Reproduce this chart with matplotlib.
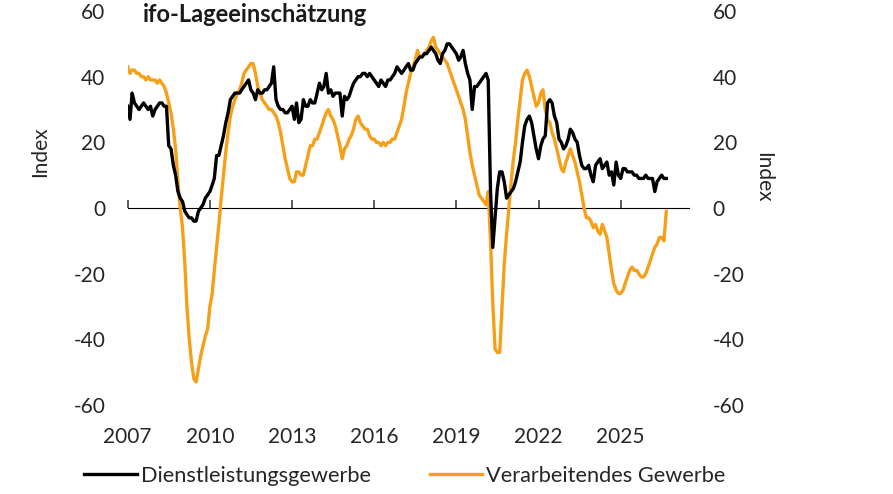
import matplotlib
matplotlib.use("Agg")
import matplotlib.pyplot as plt
import matplotlib.dates as mdates
import pandas as pd
import numpy as np

plt.rcParams['font.family'] = ['Lato', 'DejaVu Sans']
plt.rcParams['axes.unicode_minus'] = False

title = "ifo-Lageeinschätzung"
series_names = ["Dienstleistungsgewerbe", "Verarbeitendes Gewerbe"]
start_month = "2007-01-01"
tick_years = [2007, 2010, 2013, 2016, 2019, 2022, 2025]
y_ticks = [-60, -40, -20, 0, 20, 40, 60]

# Monthly values (Jan 2007 ...)
dienstleistung = [
    31, 27, 35, 32, 31, 30, 31, 32, 31, 30, 31, 28,      # 2007
    30, 31, 32, 32, 31, 31, 19, 18, 13, 10, 5, 3,        # 2008
    2, -1, -2, -3, -3, -4, -4, -1, 0, 1, 3, 4,           # 2009
    5, 7, 9, 16, 16, 19, 22, 26, 29, 33, 34, 35,         # 2010
    35, 35, 36, 37, 38, 39, 36, 35, 33, 36, 35, 35,      # 2011
    36, 36, 37, 38, 43, 33, 31, 30, 30, 29, 29, 30,      # 2012
    31, 27, 32, 26, 27, 33, 31, 31, 33, 32, 32, 35,      # 2013
    38, 36, 37, 41, 35, 36, 34, 35, 35, 35, 28, 34,      # 2014
    33, 34, 36, 38, 39, 40, 40, 41, 41, 40, 41, 40,      # 2015
    39, 38, 37, 39, 38, 37, 39, 39, 40, 41, 43, 42,      # 2016
    41, 42, 43, 44, 42, 42, 44, 45, 46, 46, 47, 47,      # 2017
    48, 49, 48, 47, 45, 44, 47, 48, 50, 50, 49, 48,      # 2018
    47, 45, 46, 48, 44, 41, 39, 30, 37, 37, 38, 39,      # 2019
    40, 41, 39, 5, -12, -3, 6, 11, 11, 8, 3, 4,          # 2020
    5, 6, 8, 11, 14, 20, 25, 27, 28, 26, 22, 18,         # 2021
    15, 19, 21, 22, 32, 33, 32, 28, 26, 21, 20, 18,      # 2022
    19, 21, 24, 23, 21, 20, 16, 13, 12, 12, 13, 10,      # 2023
    8, 13, 14, 15, 12, 13, 14, 10, 11, 7, 14, 10,        # 2024
    9, 12, 12, 11, 11, 11, 10, 10, 9, 9, 9, 10,          # 2025
    9, 9, 9, 5, 8, 9, 10, 9, 9,                          # 2026
]

verarbeitend = [
    43, 41, 42, 42, 41, 41, 40, 40, 39, 40, 39, 39,      # 2007
    39, 38, 39, 38, 37, 35, 32, 29, 24, 18, 8, 0,        # 2008
    -6, -17, -30, -40, -47, -52, -53, -49, -45, -42, -39, -37,  # 2009
    -30, -26, -19, -12, -5, 3, 10, 17, 23, 28, 31, 33,   # 2010
    35, 36, 38, 41, 42, 43, 44, 44, 41, 37, 35, 33,      # 2011
    32, 31, 30, 30, 29, 28, 26, 23, 19, 15, 12, 9,       # 2012
    8, 8, 11, 11, 10, 10, 13, 16, 19, 19, 21, 21,        # 2013
    23, 25, 27, 29, 30, 28, 27, 25, 22, 19, 15, 18,      # 2014
    19, 21, 22, 24, 27, 28, 26, 25, 24, 24, 22, 21,      # 2015
    21, 20, 20, 19, 20, 19, 20, 20, 21, 21, 23, 25,      # 2016
    27, 31, 35, 38, 41, 43, 45, 48, 46, 46, 47, 48,      # 2017
    49, 51, 52, 49, 48, 47, 46, 45, 44, 42, 40, 38,      # 2018
    36, 34, 32, 30, 27, 22, 17, 13, 10, 7, 4, 3,         # 2019
    2, 1, 5, -10, -29, -43, -44, -44, -30, -17, -8, 0,   # 2020
    8, 15, 20, 27, 33, 39, 41, 42, 40, 37, 34, 31,       # 2021
    32, 35, 36, 30, 27, 26, 23, 21, 18, 15, 12, 11,      # 2022
    14, 16, 18, 16, 14, 11, 8, 4, 0, -3, -3, -4,         # 2023
    -6, -5, -7, -8, -5, -7, -9, -14, -19, -23, -25, -26, # 2024
    -26, -25, -23, -21, -19, -18, -19, -19, -20, -21, -21, -20,  # 2025
    -18, -16, -14, -12, -11, -9, -9, -10, -1,            # 2026
]

dates = pd.date_range(start_month, periods=len(dienstleistung), freq="MS")

W, H = 893, 494
fig = plt.figure(figsize=(W / 100, H / 100), dpi=100)
left_px, right_px, top_px, bottom_px = 127.7, 689, 11, 405
ax = fig.add_axes([left_px / W, 1 - bottom_px / H,
                   (right_px - left_px) / W, (bottom_px - top_px) / H])

orange = "#F6A01A"
ax.plot(dates, verarbeitend, color=orange, lw=2.4, label=series_names[1], zorder=3)
ax.plot(dates, dienstleistung, color="black", lw=2.4, label=series_names[0], zorder=4)

ax.set_ylim(-60, 60)
ax.set_xlim(pd.Timestamp("2007-01-01"), pd.Timestamp("2027-07-01"))
ax.set_yticks(y_ticks)
ax.set_xticks([pd.Timestamp(f"{y}-01-01") for y in tick_years])
ax.xaxis.set_major_formatter(mdates.DateFormatter("%Y"))

for s in ax.spines.values():
    s.set_visible(False)

fs = 15
tick_color = "#262626"
ax.tick_params(axis="x", length=0, pad=16, labelsize=fs, labelcolor=tick_color)
ax.tick_params(axis="y", length=0, pad=16, labelsize=fs, labelcolor=tick_color)

# zero line with downward ticks
sec = ax.secondary_xaxis(0.5)
sec.set_xticks([pd.Timestamp(f"{y}-01-01") for y in tick_years])
sec.tick_params(axis="x", direction="out", length=6, width=1.2, color="#404040",
                labelbottom=False, labeltop=False)
sec.spines["bottom"].set_color("#404040")
sec.spines["bottom"].set_linewidth(1.3)
sec.xaxis.set_ticklabels([])

ax2 = ax.twinx()
ax2.set_ylim(-60, 60)
ax2.set_yticks(y_ticks)
for s in ax2.spines.values():
    s.set_visible(False)
ax2.tick_params(axis="y", length=0, pad=17, labelsize=fs, labelcolor=tick_color)

fig.text(143 / W, 1 - 14 / H, title, fontsize=17, fontweight="bold",
         ha="left", va="center", color="#1a1a1a")
fig.text(40 / W, 1 - 152 / H, "Index", fontsize=fs, rotation=90,
         ha="center", va="center", color=tick_color)
fig.text(763 / W, 1 - 177 / H, "Index", fontsize=fs, rotation=-90,
         ha="center", va="center", color=tick_color)

h1, l1 = ax.get_legend_handles_labels()
order = [1, 0]
fig.legend([h1[i] for i in order], [l1[i] for i in order],
           loc="center", bbox_to_anchor=(405 / W, 1 - 476 / H), ncol=2,
           frameon=False, fontsize=15.7, handlelength=2.4, handletextpad=0.2,
           columnspacing=2.7, labelcolor=tick_color)

fig.savefig("out.png", dpi=100)
